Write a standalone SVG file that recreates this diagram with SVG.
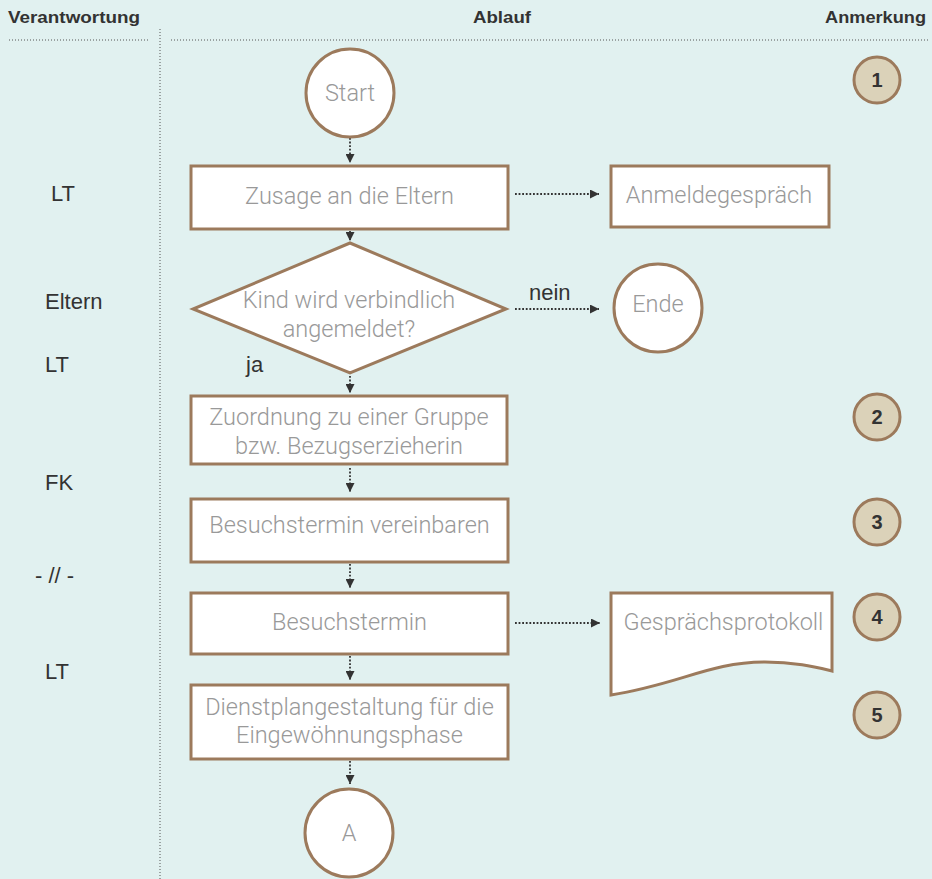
<svg xmlns="http://www.w3.org/2000/svg" width="932" height="879" viewBox="0 0 932 879">
<style>
.bg{fill:#e1f1f0}
.hd{font-family:"Liberation Sans","DejaVu Sans",sans-serif;font-weight:bold;font-size:17px;fill:#333}
.box{fill:#fff;stroke:#9c7a5c;stroke-width:3}
.num{fill:#dbd2b9;stroke:#9c7a5c;stroke-width:3}
.t{font-family:Roboto,"Open Sans","Liberation Sans",sans-serif;font-weight:300;font-size:23.5px;fill:#999;text-anchor:middle}
.lb{font-family:"Liberation Sans","DejaVu Sans",sans-serif;font-size:22px;fill:#333}
.nt{font-family:"Liberation Sans","DejaVu Sans",sans-serif;font-weight:bold;font-size:20px;fill:#333;text-anchor:middle}
.div{stroke:#555;stroke-width:1;stroke-dasharray:1 2;fill:none}
.con{stroke:#333;stroke-width:1.8;stroke-dasharray:1.8 1.8;fill:none}
</style>
<defs>
<marker id="arr" viewBox="0 0 10 10" refX="10" refY="5" markerWidth="9" markerHeight="9" orient="auto" markerUnits="userSpaceOnUse">
<path d="M0,0 L10,5 L0,10 z" fill="#333"/>
</marker>
</defs>
<rect class="bg" x="0" y="0" width="932" height="879"/>

<g id="header">
<text class="hd" x="8" y="23" textLength="132" lengthAdjust="spacingAndGlyphs">Verantwortung</text>
<text class="hd" x="473" y="23" textLength="58" lengthAdjust="spacingAndGlyphs">Ablauf</text>
<text class="hd" x="825" y="23" textLength="101" lengthAdjust="spacingAndGlyphs">Anmerkung</text>
<line class="div" x1="9" y1="40" x2="150" y2="40"/>
<line class="div" x1="171" y1="40" x2="930" y2="40"/>
<line class="div" x1="160" y1="29" x2="160" y2="879"/>
</g>

<g id="responsibility">
<text class="lb" x="51" y="201">LT</text>
<text class="lb" x="45" y="309">Eltern</text>
<text class="lb" x="45" y="372">LT</text>
<text class="lb" x="45" y="490">FK</text>
<text class="lb" x="35" y="583">- // -</text>
<text class="lb" x="45" y="679">LT</text>
</g>

<g id="connectors">
<line class="con" x1="350" y1="138" x2="350" y2="163" marker-end="url(#arr)"/>
<line class="con" x1="350" y1="231" x2="350" y2="241" marker-end="url(#arr)"/>
<line class="con" x1="515" y1="194" x2="599" y2="194" marker-end="url(#arr)"/>
<line class="con" x1="515" y1="309" x2="599" y2="309" marker-end="url(#arr)"/>
<line class="con" x1="350" y1="376" x2="350" y2="393" marker-end="url(#arr)"/>
<line class="con" x1="350" y1="468" x2="350" y2="492" marker-end="url(#arr)"/>
<line class="con" x1="350" y1="564" x2="350" y2="588" marker-end="url(#arr)"/>
<line class="con" x1="350" y1="656" x2="350" y2="680" marker-end="url(#arr)"/>
<line class="con" x1="350" y1="761" x2="350" y2="784" marker-end="url(#arr)"/>
<line class="con" x1="515" y1="623" x2="600" y2="623" marker-end="url(#arr)"/>
<text class="lb" x="529" y="300">nein</text>
<text class="lb" x="246" y="372">ja</text>
</g>

<g id="start">
<circle class="box" cx="350" cy="93" r="44"/>
<text class="t" x="350" y="101">Start</text>
</g>
<g id="zusage">
<rect class="box" x="191" y="166" width="317" height="63"/>
<text class="t" x="349.5" y="204">Zusage an die Eltern</text>
</g>
<g id="anmeldegespraech">
<rect class="box" x="611" y="166" width="218" height="61"/>
<text class="t" x="719" y="203">Anmeldegespräch</text>
</g>
<g id="decision">
<polygon class="box" points="350,243 506,309 350,373 193,309"/>
<text class="t" x="349" y="308">Kind wird verbindlich</text>
<text class="t" x="349" y="337">angemeldet?</text>
</g>
<g id="ende">
<circle class="box" cx="658" cy="308" r="44"/>
<text class="t" x="658" y="312">Ende</text>
</g>
<g id="zuordnung">
<rect class="box" x="191" y="396" width="316" height="68"/>
<text class="t" x="349" y="425">Zuordnung zu einer Gruppe</text>
<text class="t" x="349" y="454">bzw. Bezugserzieherin</text>
</g>
<g id="vereinbaren">
<rect class="box" x="191" y="499" width="317" height="63"/>
<text class="t" x="349.5" y="533">Besuchstermin vereinbaren</text>
</g>
<g id="besuchstermin">
<rect class="box" x="191" y="593" width="317" height="61"/>
<text class="t" x="349.5" y="630">Besuchstermin</text>
</g>
<g id="protokoll">
<path class="box" d="M611,593 L832,593 L832,671 C815,667 795,662 765,662 C710,662 680,684 611,695 Z"/>
<text class="t" x="723.5" y="630">Gesprächsprotokoll</text>
</g>
<g id="dienstplan">
<rect class="box" x="191" y="685" width="317" height="74"/>
<text class="t" x="349.5" y="715">Dienstplangestaltung für die</text>
<text class="t" x="349.5" y="743">Eingewöhnungsphase</text>
</g>
<g id="a">
<circle class="box" cx="349" cy="833" r="44"/>
<text class="t" x="349" y="841">A</text>
</g>

<g id="note1"><circle class="num" cx="877" cy="80" r="23"/><text class="nt" x="877" y="87">1</text></g>
<g id="note2"><circle class="num" cx="877" cy="417" r="23"/><text class="nt" x="877" y="424">2</text></g>
<g id="note3"><circle class="num" cx="877" cy="522" r="23"/><text class="nt" x="877" y="529">3</text></g>
<g id="note4"><circle class="num" cx="877" cy="617" r="23"/><text class="nt" x="877" y="624">4</text></g>
<g id="note5"><circle class="num" cx="877" cy="715" r="23"/><text class="nt" x="877" y="722">5</text></g>
</svg>
